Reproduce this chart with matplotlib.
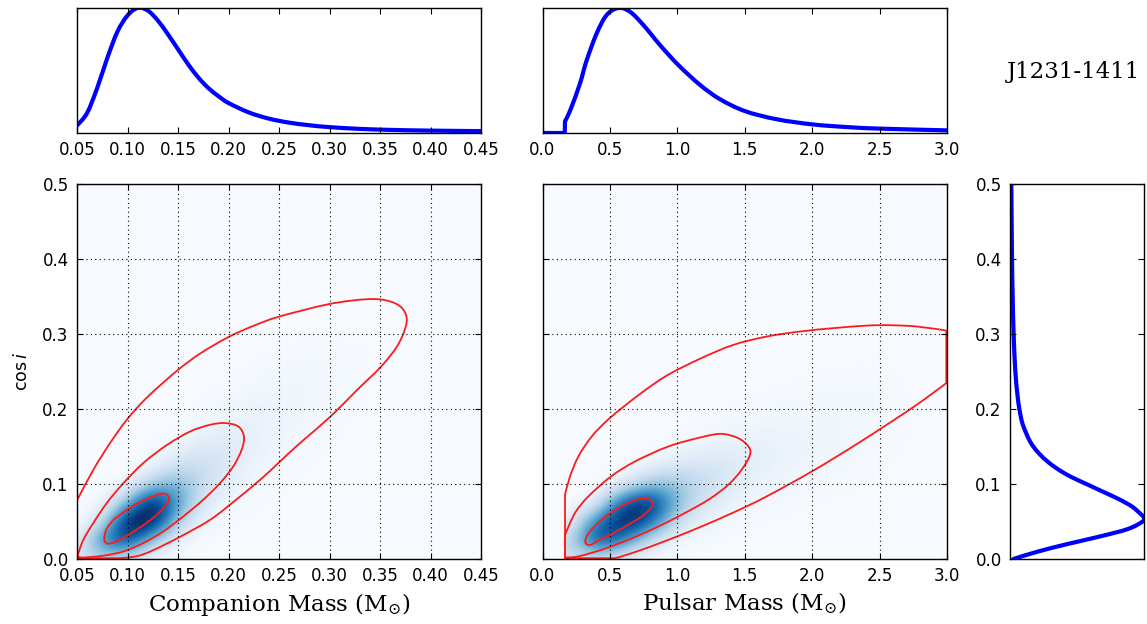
import numpy as np
import matplotlib
matplotlib.use('Agg')
import matplotlib.pyplot as plt
from matplotlib.patches import Rectangle, PathPatch
from matplotlib.path import Path

# ---- marginal curves (peak normalised to 1) ----
m2_x = [0.05, 0.06, 0.07, 0.08, 0.09, 0.10, 0.11, 0.12, 0.13, 0.14, 0.15, 0.16, 0.17,
        0.18, 0.19, 0.20, 0.22, 0.24, 0.26, 0.28, 0.30, 0.33, 0.36, 0.40, 0.45]
m2_p = [0.06, 0.16, 0.36, 0.60, 0.81, 0.94, 1.0, 0.98, 0.90, 0.79, 0.67, 0.55, 0.445,
        0.36, 0.295, 0.24, 0.165, 0.115, 0.083, 0.062, 0.047, 0.033, 0.025, 0.019, 0.015]

mp_x = [0.0, 0.165, 0.167, 0.18, 0.216, 0.278, 0.328, 0.402, 0.476, 0.563, 0.649, 0.748,
        0.872, 1.008, 1.168, 1.317, 1.502, 1.737, 2.009, 2.281, 2.504, 3.0]
mp_p = [0.0, 0.0, 0.096, 0.12, 0.21, 0.396, 0.583, 0.797, 0.944, 1.0, 0.97, 0.864,
        0.703, 0.543, 0.385, 0.27, 0.175, 0.11, 0.068, 0.046, 0.035, 0.021]

ci_y = [0.0, 0.01, 0.02, 0.03, 0.04, 0.05, 0.055, 0.06, 0.07, 0.08, 0.09, 0.10, 0.11,
        0.12, 0.13, 0.14, 0.15, 0.16, 0.18, 0.20, 0.22, 0.25, 0.30, 0.35, 0.40, 0.50]
ci_p = [0.025, 0.21, 0.43, 0.67, 0.88, 0.99, 1.0, 0.975, 0.91, 0.81, 0.69, 0.57, 0.45,
        0.355, 0.28, 0.22, 0.174, 0.14, 0.094, 0.07, 0.055, 0.04, 0.027, 0.02, 0.015, 0.01]

# ---- 2D density, coarse grid ----
# companion mass panel: columns m2 = 0.05..0.325 (step 0.025), rows cos i = 0..0.30 (step 0.025)
dens_m2 = [
    [0.12, 0.26, 0.09, 0.012, 0.002, 0, 0, 0, 0, 0, 0, 0],
    [0.02, 0.60, 0.85, 0.28, 0.03, 0.005, 0, 0, 0, 0, 0, 0],
    [0, 0.12, 1.0, 1.0, 0.24, 0.03, 0.007, 0.002, 0, 0, 0, 0],
    [0, 0.005, 0.35, 1.0, 0.50, 0.11, 0.027, 0.007, 0.002, 0, 0, 0],
    [0, 0, 0.01, 0.30, 0.42, 0.19, 0.071, 0.021, 0.007, 0.003, 0, 0],
    [0, 0, 0, 0.025, 0.18, 0.20, 0.109, 0.045, 0.017, 0.006, 0.002, 0],
    [0, 0, 0, 0, 0.038, 0.114, 0.115, 0.065, 0.031, 0.013, 0.005, 0.001],
    [0, 0, 0, 0, 0.004, 0.038, 0.079, 0.068, 0.043, 0.022, 0.01, 0.003],
    [0, 0, 0, 0, 0, 0.007, 0.034, 0.05, 0.043, 0.029, 0.015, 0.006],
    [0, 0, 0, 0, 0, 0.001, 0.01, 0.025, 0.034, 0.029, 0.019, 0.008],
    [0, 0, 0, 0, 0, 0, 0.002, 0.009, 0.019, 0.023, 0.018, 0.009],
    [0, 0, 0, 0, 0, 0, 0, 0.002, 0.007, 0.012, 0.012, 0.007],
    [0, 0, 0, 0, 0, 0, 0, 0, 0.001, 0.003, 0.004, 0.003],
]
# pulsar mass panel: columns mp = 0.2..2.8 (step 0.2), rows cos i = 0..0.30 (step 0.025)
dens_mp = [
    [0.16, 0.12, 0.03, 0.005, 0.001, 0, 0, 0, 0, 0, 0, 0, 0, 0],
    [0.18, 0.85, 0.60, 0.14, 0.025, 0.007, 0.002, 0, 0, 0, 0, 0, 0, 0],
    [0.003, 0.60, 1.0, 0.70, 0.17, 0.045, 0.014, 0.006, 0.003, 0, 0, 0, 0, 0],
    [0, 0.03, 0.75, 0.95, 0.36, 0.14, 0.051, 0.023, 0.012, 0.006, 0.004, 0.002, 0, 0],
    [0, 0, 0.06, 0.34, 0.34, 0.20, 0.10, 0.054, 0.029, 0.016, 0.009, 0.005, 0.002, 0.001],
    [0, 0, 0, 0.035, 0.12, 0.15, 0.118, 0.078, 0.048, 0.03, 0.019, 0.01, 0.005, 0.002],
    [0, 0, 0, 0.001, 0.018, 0.058, 0.075, 0.07, 0.055, 0.039, 0.027, 0.016, 0.008, 0.003],
    [0, 0, 0, 0, 0, 0.011, 0.027, 0.039, 0.041, 0.037, 0.03, 0.02, 0.011, 0.004],
    [0, 0, 0, 0, 0, 0.001, 0.005, 0.013, 0.021, 0.025, 0.024, 0.019, 0.011, 0.004],
    [0, 0, 0, 0, 0, 0, 0, 0.003, 0.007, 0.012, 0.015, 0.014, 0.009, 0.003],
    [0, 0, 0, 0, 0, 0, 0, 0, 0, 0.004, 0.007, 0.008, 0.006, 0.002],
    [0, 0, 0, 0, 0, 0, 0, 0, 0, 0.001, 0.002, 0.003, 0.002, 0.001],
    [0, 0, 0, 0, 0, 0, 0, 0, 0, 0, 0, 0, 0, 0],
]
mp_min = 0.167

# ---- confidence contours (vertices) ----
c1_m2_x = [0.0772, 0.0793, 0.0860, 0.0926, 0.1058, 0.119, 0.1322, 0.1388, 0.1411, 0.1371,
           0.1272, 0.114, 0.1008, 0.0893, 0.0810, 0.0776]
c1_m2_y = [0.0290, 0.0400, 0.0520, 0.0590, 0.0712, 0.0800, 0.0866, 0.0862, 0.0791, 0.0702,
           0.0568, 0.0435, 0.0324, 0.0235, 0.0204, 0.0230]
c2_m2_x = [0.0503, 0.0563, 0.0662, 0.0795, 0.096, 0.1157, 0.139, 0.162, 0.182, 0.1965,
           0.2097, 0.2153, 0.213, 0.2047, 0.1915, 0.175, 0.1553, 0.1355, 0.1157, 0.096,
           0.0761, 0.0563]
c2_m2_y = [0.0035, 0.0257, 0.048, 0.0746, 0.1012, 0.128, 0.152, 0.170, 0.179, 0.1812,
           0.1767, 0.1633, 0.1456, 0.1234, 0.101, 0.079, 0.0568, 0.0368, 0.0213, 0.0101,
           0.0044, 0.002]
c3_m2_x = [0.04, 0.093, 0.11, 0.125, 0.1512, 0.182, 0.2075, 0.2273, 0.2405, 0.2573,
           0.2746, 0.301, 0.3274, 0.3503, 0.3668, 0.375, 0.3762, 0.3703, 0.3571, 0.3373,
           0.300, 0.2502, 0.225, 0.2, 0.172, 0.149, 0.119, 0.0993, 0.0827, 0.0662, 0.0503,
           0.04]
c3_m2_y = [0.001, 0.001, 0.004, 0.0115, 0.029, 0.0524, 0.079, 0.101, 0.1167, 0.138,
           0.159, 0.19, 0.2255, 0.2555, 0.2833, 0.3077, 0.3232, 0.3365, 0.3445, 0.3464,
           0.340, 0.3232, 0.311, 0.296, 0.274, 0.251, 0.215, 0.1856, 0.1545, 0.119, 0.079,
           0.052]

c1_mp_x = [0.32, 0.3227, 0.3524, 0.4389, 0.5502, 0.6615, 0.7481, 0.7975, 0.8149, 0.805,
           0.7357, 0.6368, 0.5255, 0.4266, 0.3524]
c1_mp_y = [0.0213, 0.0279, 0.0368, 0.0524, 0.0666, 0.0768, 0.0808, 0.0790, 0.0746, 0.068,
           0.0568, 0.0457, 0.0346, 0.0257, 0.0186]
c2_mp_x = [0.167, 0.167, 0.241, 0.340, 0.508, 0.686, 0.933, 1.181, 1.329, 1.453, 1.527,
           1.539, 1.477, 1.378, 1.230, 1.032, 0.835, 0.637, 0.439, 0.266]
c2_mp_y = [0.002, 0.032, 0.0613, 0.0834, 0.110, 0.130, 0.150, 0.1625, 0.1668, 0.161, 0.150,
           0.139, 0.119, 0.099, 0.079, 0.059, 0.0413, 0.0257, 0.0124, 0.0035]
c3_mp_x = [0.167, 0.167, 0.204, 0.266, 0.365, 0.50, 0.723, 0.921, 1.168, 1.416, 1.663,
           1.910, 2.157, 2.405, 2.578, 2.776, 2.995, 2.995, 2.75, 2.355, 2.0, 1.651, 1.428,
           1.181, 0.933, 0.686, 0.538, 0.167]
c3_mp_y = [0.001, 0.0857, 0.110, 0.1367, 0.1633, 0.188, 0.220, 0.2445, 0.267, 0.2855,
           0.2966, 0.3033, 0.3078, 0.3112, 0.3117, 0.310, 0.3046, 0.2345, 0.2025, 0.156,
           0.117, 0.0824, 0.063, 0.0435, 0.0255, 0.0092, 0.001, 0.001]

m2_ticks = [0.05, 0.10, 0.15, 0.20, 0.25, 0.30, 0.35, 0.40, 0.45]
mp_ticks = [0.0, 0.5, 1.0, 1.5, 2.0, 2.5, 3.0]
ci_ticks = [0.0, 0.1, 0.2, 0.3, 0.4, 0.5]

# ---- style ----
plt.rcParams['font.family'] = ['DejaVu Sans']
plt.rcParams['font.size'] = 12
plt.rcParams['xtick.direction'] = 'in'
plt.rcParams['ytick.direction'] = 'in'
plt.rcParams['xtick.top'] = True
plt.rcParams['ytick.right'] = True
plt.rcParams['xtick.major.size'] = 4
plt.rcParams['ytick.major.size'] = 4
plt.rcParams['xtick.major.pad'] = 6
plt.rcParams['ytick.major.pad'] = 6
plt.rcParams['axes.linewidth'] = 1.0


def smooth_path(xs, ys, closed=False, corners=()):
    # bezier path through the read vertices (catmull-rom tangents)
    P = np.column_stack([xs, ys]).astype(float)
    n = len(P)

    def tan(i):
        if i in corners:
            return np.zeros(2)
        if closed:
            return (P[(i + 1) % n] - P[(i - 1) % n]) / 6.0
        return (P[min(i + 1, n - 1)] - P[max(i - 1, 0)]) / 6.0

    verts = [P[0]]
    codes = [Path.MOVETO]
    for i in range(n if closed else n - 1):
        j = (i + 1) % n
        verts += [P[i] + tan(i), P[j] - tan(j), P[j]]
        codes += [Path.CURVE4] * 3
    return Path(verts, codes)


def draw(ax, xs, ys, color, lw, closed=False, corners=()):
    ax.add_patch(PathPatch(smooth_path(xs, ys, closed, corners), fill=False,
                           edgecolor=color, lw=lw, joinstyle='round', capstyle='round'))


W, H = 1147, 624
fig = plt.figure(figsize=(W / 100, H / 100), dpi=100)


def box(x0, y0, x1, y1):
    # pixel box (top-left origin) -> figure fraction
    return [x0 / W, 1 - y1 / H, (x1 - x0) / W, (y1 - y0) / H]


ax_m2 = fig.add_axes(box(77, 184, 481, 559))
ax_mp = fig.add_axes(box(542.5, 184, 947, 559))
ax_top1 = fig.add_axes(box(77, 8, 481, 133))
ax_top2 = fig.add_axes(box(542.5, 8, 947, 133))
ax_ci = fig.add_axes(box(1010, 184, 1144, 559))

bg = plt.cm.Blues(0.0)
red = '#ff1a1a'
blue = '#0000ff'
grid_ls = (0, (1, 3))
vtop = 0.85

# companion mass vs cos i
ax_m2.set_facecolor(bg)
ax_m2.imshow(dens_m2, origin='lower', extent=[0.0375, 0.3375, -0.0125, 0.3125],
             cmap='Blues', vmin=0, vmax=vtop, interpolation='bicubic', aspect='auto')
draw(ax_m2, c1_m2_x, c1_m2_y, red, 1.3, closed=True)
draw(ax_m2, c2_m2_x, c2_m2_y, red, 1.3, closed=True, corners=(0,))
draw(ax_m2, c3_m2_x, c3_m2_y, red, 1.3, corners=(0, 1))
ax_m2.set_xlim(0.05, 0.45)
ax_m2.set_ylim(0, 0.5)
ax_m2.set_xticks(m2_ticks)
ax_m2.set_yticks(ci_ticks)
ax_m2.grid(True, color='k', ls=grid_ls, lw=0.8)
ax_m2.set_xlabel(r'Companion Mass (M$_{\odot}$)', family='DejaVu Serif', fontsize=16.5,
                 math_fontfamily='dejavuserif')
ax_m2.set_ylabel(r'$\cos i$', fontsize=12.5, labelpad=8)

# pulsar mass vs cos i
ax_mp.set_facecolor(bg)
im = ax_mp.imshow(dens_mp, origin='lower', extent=[0.1, 2.9, -0.0125, 0.3125],
                  cmap='Blues', vmin=0, vmax=vtop, interpolation='bicubic', aspect='auto')
im.set_clip_path(Rectangle((mp_min, 0), 3.0 - mp_min, 0.5, transform=ax_mp.transData))
draw(ax_mp, c1_mp_x, c1_mp_y, red, 1.3, closed=True)
draw(ax_mp, c2_mp_x, c2_mp_y, red, 1.3, closed=True, corners=(0, 1))
draw(ax_mp, c3_mp_x, c3_mp_y, red, 1.3, corners=(0, 1, 16, 17, 26, 27))
ax_mp.set_xlim(0, 3.0)
ax_mp.set_ylim(0, 0.5)
ax_mp.set_xticks(mp_ticks)
ax_mp.set_yticks(ci_ticks)
ax_mp.set_yticklabels([])
ax_mp.grid(True, color='k', ls=grid_ls, lw=0.8)
ax_mp.set_xlabel(r'Pulsar Mass (M$_{\odot}$)', family='DejaVu Serif', fontsize=16.5,
                 math_fontfamily='dejavuserif')

# top marginals
draw(ax_top1, m2_x, m2_p, blue, 3)
ax_top1.set_xlim(0.05, 0.45)
ax_top1.set_ylim(0, 1)
ax_top1.set_xticks(m2_ticks)
ax_top1.set_yticks([])

draw(ax_top2, mp_x, mp_p, blue, 3, corners=(0, 1, 2))
ax_top2.set_xlim(0, 3.0)
ax_top2.set_ylim(0, 1)
ax_top2.set_xticks(mp_ticks)
ax_top2.set_yticks([])

# cos i marginal
draw(ax_ci, ci_p, ci_y, blue, 3)
ax_ci.set_xlim(0, 1)
ax_ci.set_ylim(0, 0.5)
ax_ci.set_yticks(ci_ticks)
ax_ci.set_xticks([])

fig.text(0.9355, 0.885, 'J1231-1411', ha='center', va='center',
         family='DejaVu Serif', fontsize=16.5)

fig.savefig('out.png', dpi=100)
